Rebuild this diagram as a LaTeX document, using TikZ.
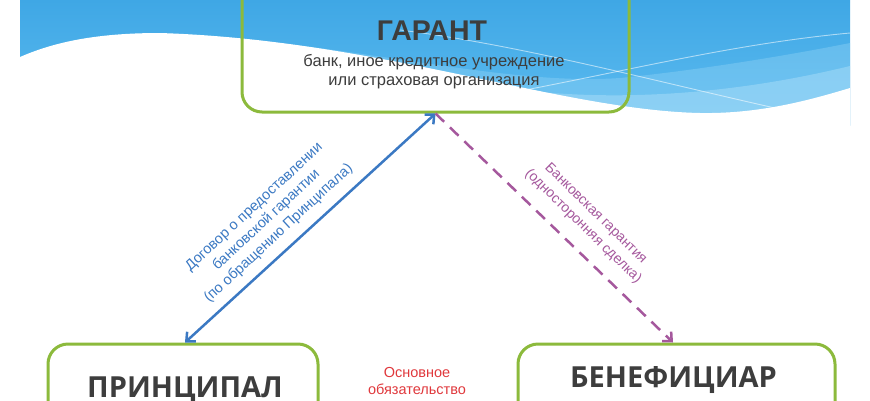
\documentclass[tikz,border=0pt]{standalone}
\usepackage{fontspec}
\setmainfont{Liberation Sans}
\newfontfamily\opensans{Open Sans}
\usetikzlibrary{arrows.meta,calc}
\definecolor{boxgreen}{HTML}{8CBA3C}
\definecolor{arrblue}{HTML}{3B79C3}
\definecolor{arrpink}{HTML}{A5589D}
\definecolor{oblred}{HTML}{E0383C}
\definecolor{titlegray}{HTML}{3D3D3D}
\definecolor{skytop}{HTML}{3FA7E5}
\definecolor{skybot}{HTML}{5DBCF0}
\definecolor{skylight}{HTML}{8AD0F5}
\definecolor{skypale}{HTML}{A9DDF8}
\begin{document}
\begin{tikzpicture}[x=1pt,y=-1pt,
  party/.style={draw=boxgreen, line width=3pt, rounded corners=20pt, rectangle, inner sep=0pt},
  bigname/.style={anchor=base, text=titlegray, font=\opensans\bfseries\fontsize{29}{32}\selectfont},
  subtext/.style={text=titlegray, font=\fontsize{16.5}{19}\selectfont, align=center, inner sep=0pt},
  linklabel/.style={align=center, font=\fontsize{14}{18}\selectfont, inner sep=0pt},
  bluelink/.style={draw=arrblue, line width=2.5pt, {Straight Barb[length=7pt,width=13pt]}-{Straight Barb[length=7pt,width=13pt]}},
  pinklink/.style={draw=arrpink, line width=2.5pt, dash pattern=on 12pt off 8pt, -{Straight Barb[length=7pt,width=13pt]}},
  waveline/.style={draw=white, line width=0.9pt, opacity=0.55}
]
\clip (0,0) rectangle (870,400);
\fill[white] (0,0) rectangle (870,400);
% sky waves
\shade[top color=skytop, bottom color=skybot] (20,0) rectangle (850,125);
\fill[skylight, opacity=0.45] (250,40) .. controls (400,55) and (520,85) .. (620,78) .. controls (700,70) and (790,55) .. (850,43) -- (850,125) -- (250,125) -- cycle;
\fill[skypale, opacity=0.5] (540,92) .. controls (650,102) and (760,88) .. (850,66) -- (850,125) -- (540,125) -- cycle;
\draw[waveline] (470,100) .. controls (600,78) and (720,45) .. (850,33);
\draw[waveline] (400,30) .. controls (520,45) and (650,80) .. (775,108);
\fill[white] (20,57) .. controls (50,44) and (90,33) .. (160,33) .. controls (380,40) and (560,110) .. (700,113) .. controls (760,114) and (810,100) .. (850,88) -- (850,130) -- (20,130) -- cycle;
% boxes
\node[party, minimum width=387pt, minimum height=140pt] (garant) at (435.5,42) {};
\node[party, minimum width=270pt, minimum height=116pt] (princ) at (183,402) {};
\node[party, minimum width=317pt, minimum height=116pt] (benef) at (676.5,402) {};
% connectors
\draw[bluelink] ([xshift=2pt]princ.north) -- (garant.south);
\draw[pinklink] (garant.south) -- ([xshift=-3.5pt]benef.north);
% texts
\node[anchor=base, text=titlegray, font=\bfseries\fontsize{28.5}{32}\selectfont] (garantT) at (432,40) {ГАРАНТ};
\node[subtext, anchor=north] (garantS) at (434,54.2) {банк, иное кредитное учреждение\\или страховая организация};
\node[bigname] (princT) at (185,397) {ПРИНЦИПАЛ};
\node[bigname] (benefT) at (673.5,387) {БЕНЕФИЦИАР};
\node[linklabel, text=arrblue, rotate=42.8, font=\fontsize{14.5}{18}\selectfont] (lblue) at ($([xshift=2pt]princ.north)!0.42!(garant.south)!35pt!90:(garant.south)$) {Договор о предоставлении\\банковской гарантии\\(по обращению Принципала)};
\node[linklabel, text=arrpink, rotate=-44.3] (lpink) at ($(garant.south)!0.56!([xshift=-3.5pt]benef.north)!30pt!90:([xshift=-3.5pt]benef.north)$) {Банковская гарантия\\(односторонняя сделка)};
\node[anchor=north, align=center, inner sep=0pt, text=oblred, font=\fontsize{14.5}{17}\selectfont] (obl) at (417,367.5) {Основное\\обязательство};
\end{tikzpicture}
\end{document}
